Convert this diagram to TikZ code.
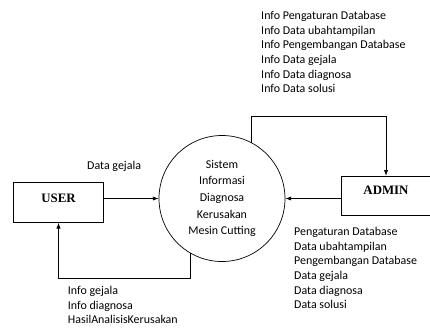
\documentclass[tikz,border=0pt]{standalone}
\usepackage{fontspec}
\setmainfont{Carlito}
\newfontfamily\caixafont{Liberation Serif}
\usetikzlibrary{arrows.meta}
\tikzset{
  caixa/.style={draw,line width=0.8pt,minimum width=2.68cm,minimum height=1.18cm,font=\caixafont\bfseries\fontsize{11}{13}\selectfont},
  texto/.style={inner sep=0pt,anchor=north west,align=left,font=\fontsize{10.2}{12.5}\selectfont},
  seta/.style={-{Latex[length=5pt,width=3.6pt]},line width=0.6pt}
}
\begin{document}
\begin{tikzpicture}[x=0.03cm,y=-0.03cm]
%área do desenho
 \useasboundingbox (0,0) rectangle (430,328);
%processo central
 \node[draw,circle,line width=0.6pt,minimum size=3.78cm,align=center,font=\fontsize{10.2}{14.2}\selectfont] (sistem) at (222,198.5) {Sistem\\Informasi\\Diagnosa\\Kerusakan\\Mesin Cutting};
%entidades externas
 \node[caixa,text depth=0.27cm] (user) at (58.5,202.5) {USER};
 \node[caixa,minimum width=2.7cm,text depth=0.36cm] (admin) at (386,196) {ADMIN};
%pontos de dobra
 \coordinate (baixo) at (0,278);
 \coordinate (cima) at (0,116.7);
%fluxos
 \draw[seta] (user.east |- sistem.west) -- (sistem.west);
 \draw[seta] (admin.west |- sistem.east) -- (sistem.east);
 \draw[seta] (sistem.-120) -- (sistem.-120 |- baixo) -| (user.south);
 \draw[seta] (sistem.62) -- (sistem.62 |- cima) -| (admin.north);
%rótulos
 \node[texto] (datagejala) at (87,161) {Data gejala};
 \node[texto] (infoadmin) at (261,11) {Info Pengaturan Database\\Info Data ubahtampilan\\Info Pengembangan Database\\Info Data gejala\\Info Data diagnosa\\Info Data solusi};
 \node[texto] (dataadmin) at (294,227) {Pengaturan Database\\Data ubahtampilan\\Pengembangan Database\\Data gejala\\Data diagnosa\\Data solusi};
 \node[texto] (infouser) at (67.7,286) {Info gejala\\Info diagnosa\\HasilAnalisisKerusakan};
\end{tikzpicture}
\end{document}
